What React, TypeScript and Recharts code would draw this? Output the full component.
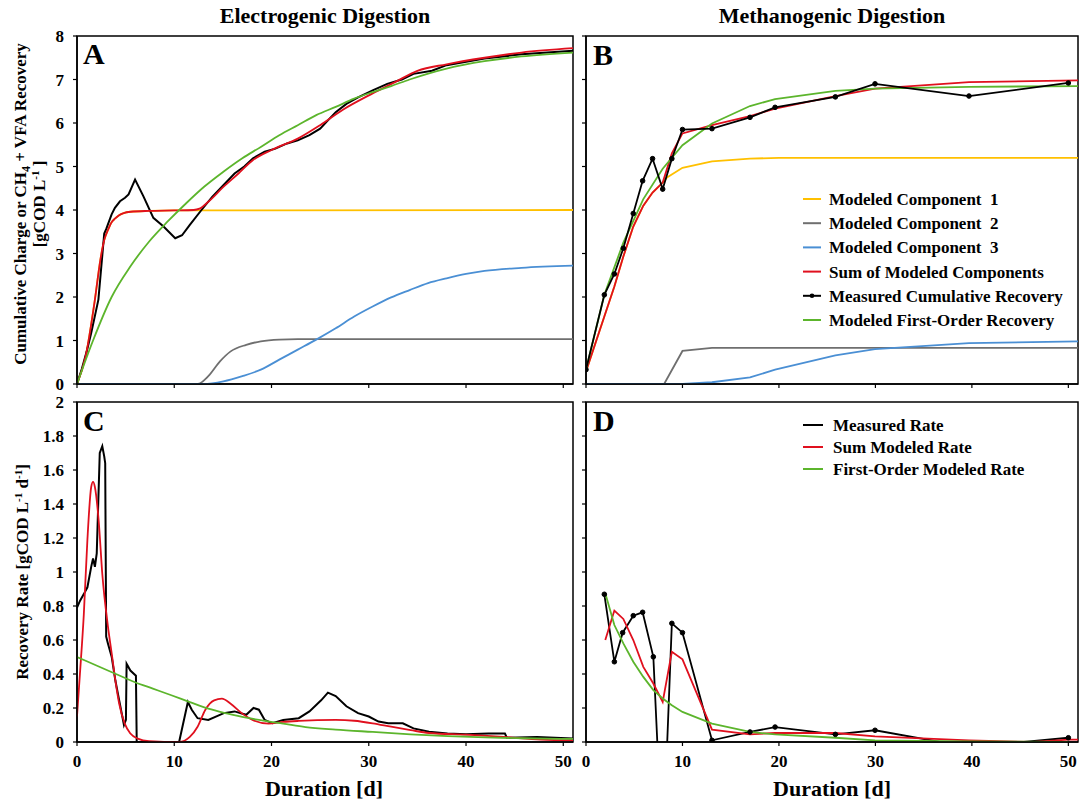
import React from 'react';
import { LineChart, Line, XAxis, YAxis, ReferenceArea } from 'recharts';

const FONT = '"Liberation Serif", "Times New Roman", Times, serif';
const YELLOW = '#ffc000';
const GRAY = '#6f6f6f';
const BLUE = '#4a8fd4';
const RED = '#e0101e';
const BLACK = '#000000';
const GREEN = '#5cb52c';

// ---------- Panel A: Electrogenic cumulative ----------
const A_MEAS_X = [0, 0.5, 1, 1.46, 2.2, 2.8, 3.0, 3.56, 3.9, 4.42, 4.94, 5.3, 5.97, 6.82, 7.85, 8.9, 10.1, 10.8, 11.6, 12.8, 13.9, 15.05, 16.2, 17.2, 18.1, 19.3, 20.4, 21.6, 22.7, 23.9, 25.0, 25.8, 26.6, 27.7, 28.9, 30.4, 31.9, 33.4, 34.6, 36.5, 38.0, 41.9, 45.7, 51];
const A_MEAS_Y = [0, 0.35, 0.75, 1.17, 1.94, 3.46, 3.56, 3.9, 4.05, 4.2, 4.28, 4.36, 4.7, 4.32, 3.82, 3.62, 3.35, 3.42, 3.66, 4.0, 4.3, 4.57, 4.84, 5.0, 5.19, 5.34, 5.41, 5.53, 5.6, 5.72, 5.87, 6.06, 6.25, 6.44, 6.59, 6.75, 6.9, 7.0, 7.13, 7.2, 7.33, 7.48, 7.58, 7.66];
const A_SUM_X = [0, 0.88, 1.84, 2.4, 2.8, 3.2, 3.56, 3.9, 4.33, 4.8, 5.5, 7.4, 10, 12.0, 12.6, 13.5, 15.05, 16.6, 18.1, 20.0, 22.7, 25.0, 27.3, 30.4, 32.7, 35.0, 38.0, 41.9, 45.7, 51];
const A_SUM_Y = [0, 0.63, 1.94, 2.85, 3.31, 3.55, 3.72, 3.8, 3.88, 3.93, 3.96, 3.98, 3.99, 4.0, 4.03, 4.19, 4.53, 4.84, 5.15, 5.38, 5.64, 5.95, 6.3, 6.68, 6.94, 7.2, 7.35, 7.5, 7.62, 7.72];
const A_C1_X = [0, 0.88, 1.84, 2.4, 2.8, 3.2, 3.56, 3.9, 4.33, 4.8, 5.5, 7.4, 10, 51];
const A_C1_Y = [0, 0.63, 1.94, 2.85, 3.31, 3.55, 3.72, 3.8, 3.88, 3.93, 3.96, 3.98, 3.99, 4.0];
const A_C2_X = [0, 12.4, 13.5, 14.7, 15.8, 17.4, 18.9, 20.8, 22.7, 51];
const A_C2_Y = [0, 0, 0.18, 0.52, 0.75, 0.9, 0.98, 1.02, 1.03, 1.03];
const A_C3_X = [0, 13, 15.05, 17, 18.9, 20.8, 22.7, 24.6, 26.6, 28.5, 30.4, 32.3, 34.2, 36.1, 38, 40, 41.9, 45.7, 51];
const A_C3_Y = [0, 0, 0.06, 0.18, 0.33, 0.56, 0.79, 1.02, 1.28, 1.55, 1.78, 1.99, 2.16, 2.32, 2.43, 2.53, 2.6, 2.67, 2.72];
const A_FO_X = [0, 1.65, 3.56, 5.48, 7.4, 9.3, 11.2, 13.1, 15.05, 17, 18.9, 20.8, 22.7, 24.6, 26.6, 28.5, 30.4, 32.3, 34.2, 38, 41.9, 45.7, 51];
const A_FO_Y = [0, 1.0, 2.0, 2.7, 3.27, 3.73, 4.15, 4.54, 4.88, 5.19, 5.45, 5.72, 5.95, 6.18, 6.37, 6.56, 6.71, 6.85, 7.0, 7.25, 7.42, 7.53, 7.62];

// ---------- Panel B: Methanogenic cumulative ----------
const B_MEAS_X = [0, 1.9, 2.94, 3.87, 4.9, 5.87, 6.9, 7.95, 8.9, 10, 13.06, 17, 19.6, 25.85, 29.96, 39.7, 50];
const B_MEAS_Y = [0.33, 2.05, 2.53, 3.12, 3.92, 4.67, 5.18, 4.48, 5.18, 5.85, 5.87, 6.13, 6.36, 6.6, 6.9, 6.62, 6.92];
const B_SUM_X = [0, 1.9, 2.94, 3.87, 4.9, 5.94, 6.9, 7.95, 8.9, 10, 13.06, 17, 19.6, 25.85, 29.96, 39.7, 51];
const B_SUM_Y = [0.29, 1.55, 2.24, 2.93, 3.62, 4.1, 4.4, 4.63, 5.3, 5.76, 5.95, 6.16, 6.33, 6.62, 6.79, 6.94, 6.98];
const B_C1_X = [0, 1.9, 2.94, 3.87, 4.9, 5.94, 6.9, 7.95, 8.4, 10, 13.06, 17, 20, 51];
const B_C1_Y = [0.29, 1.55, 2.24, 2.93, 3.62, 4.1, 4.4, 4.63, 4.75, 4.97, 5.12, 5.18, 5.2, 5.2];
const B_C2_X = [0, 8.1, 10, 13.06, 51];
const B_C2_Y = [0, 0, 0.76, 0.83, 0.83];
const B_C3_X = [0, 10, 13.06, 17, 19.6, 25.85, 29.96, 39.7, 51];
const B_C3_Y = [0, 0, 0.04, 0.15, 0.33, 0.66, 0.8, 0.94, 0.98];
const B_FO_X = [0, 1.9, 3.87, 5.94, 7.95, 10, 13.06, 17, 19.6, 25.85, 29.96, 39.7, 51];
const B_FO_Y = [0.33, 2.05, 3.25, 4.25, 4.95, 5.49, 5.99, 6.39, 6.55, 6.74, 6.79, 6.83, 6.85];

// ---------- Panel C: Electrogenic rate ----------
const C_MEAS_X = [0, 0.3, 0.7, 1.07, 1.46, 1.65, 1.84, 2.03, 2.15, 2.34, 2.6, 2.8, 2.9, 3.0, 3.18, 3.57, 3.95, 4.34, 4.83, 5.03, 5.1, 5.49, 6.06, 6.14, 10.5, 11.4, 11.8, 12.4, 13.5, 15.1, 16.2, 17.4, 18.15, 18.7, 19.3, 20.1, 21.2, 22.8, 23.9, 25.1, 25.8, 26.6, 27.7, 28.9, 30.0, 31.0, 32.0, 33.5, 34.6, 36.2, 38.1, 40.0, 42.3, 44.0, 44.2, 47.3, 51];
const C_MEAS_Y = [0.79, 0.83, 0.87, 0.91, 1.03, 1.08, 1.03, 1.11, 1.34, 1.7, 1.74, 1.68, 1.64, 0.62, 0.58, 0.5, 0.36, 0.245, 0.1, 0.13, 0.46, 0.42, 0.39, 0, 0, 0.235, 0.19, 0.14, 0.13, 0.17, 0.18, 0.16, 0.2, 0.19, 0.13, 0.11, 0.13, 0.14, 0.18, 0.245, 0.29, 0.27, 0.21, 0.17, 0.15, 0.12, 0.11, 0.11, 0.08, 0.06, 0.05, 0.045, 0.05, 0.05, 0.025, 0.03, 0.02];
const C_SUM_X = [0, 0.3, 0.7, 1.07, 1.46, 1.65, 1.84, 2.23, 2.6, 3.18, 3.57, 3.95, 4.34, 4.91, 5.49, 6.25, 7.4, 10.5, 11.6, 12.4, 13.2, 14.1, 14.9, 15.8, 17.0, 18.15, 19.7, 21.2, 22.8, 26.6, 28.5, 30.4, 32.3, 34.3, 36.2, 40, 43.9, 47.7, 51];
const C_SUM_Y = [0.15, 0.4, 0.75, 1.19, 1.5, 1.53, 1.5, 1.3, 0.99, 0.68, 0.52, 0.36, 0.225, 0.108, 0.05, 0.02, 0.005, 0, 0.03, 0.09, 0.19, 0.245, 0.255, 0.225, 0.167, 0.127, 0.108, 0.118, 0.124, 0.13, 0.125, 0.11, 0.09, 0.07, 0.053, 0.043, 0.03, 0.014, 0.01];
const C_FO_X = [0, 2, 4, 5.9, 7.8, 9.7, 11.6, 13.5, 15.5, 17.4, 19.3, 21.2, 23.5, 26.6, 30.4, 34.3, 38.1, 42, 45.8, 51];
const C_FO_Y = [0.5, 0.45, 0.4, 0.353, 0.314, 0.275, 0.235, 0.196, 0.167, 0.143, 0.124, 0.108, 0.088, 0.073, 0.059, 0.045, 0.035, 0.027, 0.022, 0.018];

// ---------- Panel D: Methanogenic rate ----------
const D_MEAS_X = [1.9, 2.94, 3.8, 4.9, 5.87, 6.98, 7.95, 8.9, 10.0, 13.06, 17.0, 19.6, 25.85, 29.96, 39.7, 50];
const D_MEAS_Y = [0.869, 0.472, 0.643, 0.743, 0.763, 0.501, -0.68, 0.698, 0.643, 0.01, 0.059, 0.088, 0.045, 0.069, -0.03, 0.025];
const D_SUM_X = [2.0, 2.94, 3.87, 4.9, 5.94, 6.98, 7.95, 8.9, 10.0, 13.06, 17.0, 19.6, 25.85, 29.96, 39.7, 46.4, 50, 51];
const D_SUM_Y = [0.6, 0.773, 0.724, 0.6, 0.442, 0.344, 0.236, 0.531, 0.486, 0.073, 0.045, 0.053, 0.053, 0.033, 0.01, 0, 0.014, 0.014];
const D_FO_X = [2.0, 2.94, 3.87, 4.9, 5.94, 6.98, 7.95, 8.9, 10, 13.06, 17, 19.6, 25.85, 29.96, 39.7, 50];
const D_FO_Y = [0.875, 0.688, 0.58, 0.472, 0.383, 0.305, 0.256, 0.216, 0.177, 0.108, 0.059, 0.045, 0.025, 0.01, 0.004, 0];

// ---------- Axes / text ----------
const X_TICKS = [0, 10, 20, 30, 40, 50];
const Y_TICKS_CUM = [0, 1, 2, 3, 4, 5, 6, 7, 8];
const Y_TICKS_RATE = [0, 0.2, 0.4, 0.6, 0.8, 1, 1.2, 1.4, 1.6, 1.8, 2];
const LEGEND_B = ['Modeled Component  1', 'Modeled Component  2', 'Modeled Component  3', 'Sum of Modeled Components', 'Measured Cumulative Recovery', 'Modeled First-Order Recovery'];
const LEGEND_B_COLORS = [YELLOW, GRAY, BLUE, RED, BLACK, GREEN];
const LEGEND_D = ['Measured Rate', 'Sum Modeled Rate', 'First-Order Modeled Rate'];
const LEGEND_D_COLORS = [BLACK, RED, GREEN];

type Pt = { x: number; y: number };
const pts = (xs: number[], ys: number[]): Pt[] => xs.map((x, i) => ({ x, y: ys[i] }));

type Series = { data: Pt[]; color: string; smooth?: boolean; dots?: boolean; width?: number; name: string };

const tickStyle = { fontSize: 17, fontWeight: 700, fill: '#000', fontFamily: FONT };
const blank = () => '';

function Panel(props: {
  left: number; top: number; width: number; height: number;
  mTop: number; mRight: number; yWidth: number; xHeight: number;
  yMax: number; yTicks: number[]; showXLabels: boolean; showYLabels: boolean;
  series: Series[];
}) {
  const { left, top, width, height, mTop, mRight, yWidth, xHeight, yMax, yTicks, showXLabels, showYLabels, series } = props;
  return (
    <div style={{ position: 'absolute', left, top, width, height }}>
      <LineChart width={width} height={height} margin={{ top: mTop, right: mRight, bottom: 0, left: 0 }}>
        <XAxis
          type="number"
          dataKey="x"
          domain={[0, 51]}
          ticks={X_TICKS}
          interval={0}
          allowDataOverflow
          height={xHeight}
          tickSize={4}
          tickMargin={9}
          axisLine={{ stroke: '#000', strokeWidth: 1.5 }}
          tickLine={{ stroke: '#000', strokeWidth: 1.2 }}
          tick={tickStyle}
          tickFormatter={showXLabels ? undefined : blank}
        />
        <YAxis
          type="number"
          dataKey="y"
          domain={[0, yMax]}
          ticks={yTicks}
          interval={0}
          allowDataOverflow
          width={yWidth}
          tickSize={4}
          tickMargin={9}
          axisLine={{ stroke: '#000', strokeWidth: 1.5 }}
          tickLine={{ stroke: '#000', strokeWidth: 1.2 }}
          tick={tickStyle}
          tickFormatter={showYLabels ? undefined : blank}
        />
        <ReferenceArea x1={0} x2={51} y1={0} y2={yMax} fill="none" fillOpacity={0} stroke="#000" strokeWidth={1.5} ifOverflow="visible" />
        {series.map((s) => (
          <Line
            key={s.name}
            data={s.data}
            dataKey="y"
            name={s.name}
            type={s.smooth ? 'monotone' : 'linear'}
            stroke={s.color}
            strokeWidth={s.width ?? 1.8}
            dot={s.dots ? { r: 2.3, fill: '#000', stroke: '#000', strokeWidth: 1 } : false}
            activeDot={false}
            isAnimationActive={false}
          />
        ))}
      </LineChart>
    </div>
  );
}

export default function App() {
  const seriesA: Series[] = [
    { name: 'c1', data: pts(A_C1_X, A_C1_Y), color: YELLOW, smooth: true },
    { name: 'c2', data: pts(A_C2_X, A_C2_Y), color: GRAY, smooth: true },
    { name: 'c3', data: pts(A_C3_X, A_C3_Y), color: BLUE, smooth: true },
    { name: 'meas', data: pts(A_MEAS_X, A_MEAS_Y), color: BLACK, width: 2 },
    { name: 'sum', data: pts(A_SUM_X, A_SUM_Y), color: RED, smooth: true },
    { name: 'fo', data: pts(A_FO_X, A_FO_Y), color: GREEN, smooth: true },
  ];
  const seriesB: Series[] = [
    { name: 'c1', data: pts(B_C1_X, B_C1_Y), color: YELLOW },
    { name: 'c2', data: pts(B_C2_X, B_C2_Y), color: GRAY },
    { name: 'c3', data: pts(B_C3_X, B_C3_Y), color: BLUE },
    { name: 'sum', data: pts(B_SUM_X, B_SUM_Y), color: RED },
    { name: 'fo', data: pts(B_FO_X, B_FO_Y), color: GREEN },
    { name: 'meas', data: pts(B_MEAS_X, B_MEAS_Y), color: BLACK, dots: true },
  ];
  const seriesC: Series[] = [
    { name: 'meas', data: pts(C_MEAS_X, C_MEAS_Y), color: BLACK, width: 2 },
    { name: 'sum', data: pts(C_SUM_X, C_SUM_Y), color: RED, smooth: true },
    { name: 'fo', data: pts(C_FO_X, C_FO_Y), color: GREEN, smooth: true },
  ];
  const seriesD: Series[] = [
    { name: 'meas', data: pts(D_MEAS_X, D_MEAS_Y), color: BLACK, dots: true },
    { name: 'sum', data: pts(D_SUM_X, D_SUM_Y), color: RED },
    { name: 'fo', data: pts(D_FO_X, D_FO_Y), color: GREEN },
  ];

  const bold = { fontFamily: FONT, fontWeight: 700, fill: '#000' } as const;

  return (
    <div style={{ position: 'absolute', left: 0, top: 0, width: 1080, height: 802, background: '#fff', fontFamily: FONT }}>
      <Panel left={0} top={0} width={580} height={400} mTop={36} mRight={7} yWidth={77} xHeight={16}
        yMax={8} yTicks={Y_TICKS_CUM} showXLabels={false} showYLabels series={seriesA} />
      <Panel left={580} top={0} width={500} height={400} mTop={36} mRight={2} yWidth={6} xHeight={16}
        yMax={8} yTicks={Y_TICKS_CUM} showXLabels={false} showYLabels={false} series={seriesB} />
      <Panel left={0} top={390} width={580} height={412} mTop={12} mRight={7} yWidth={77} xHeight={60}
        yMax={2} yTicks={Y_TICKS_RATE} showXLabels showYLabels series={seriesC} />
      <Panel left={580} top={390} width={500} height={412} mTop={12} mRight={2} yWidth={6} xHeight={60}
        yMax={2} yTicks={Y_TICKS_RATE} showXLabels showYLabels={false} series={seriesD} />

      <svg width={1080} height={802} style={{ position: 'absolute', left: 0, top: 0, pointerEvents: 'none' }}>
        <text x={325} y={23} textAnchor="middle" fontSize={22} {...bold}>Electrogenic Digestion</text>
        <text x={832} y={23} textAnchor="middle" fontSize={22} {...bold}>Methanogenic Digestion</text>
        <text x={324} y={796} textAnchor="middle" fontSize={22} {...bold}>Duration [d]</text>
        <text x={832} y={796} textAnchor="middle" fontSize={22} {...bold}>Duration [d]</text>

        <text x={83} y={64} fontSize={30} {...bold}>A</text>
        <text x={593} y={65} fontSize={30} {...bold}>B</text>
        <text x={83} y={431} fontSize={30} {...bold}>C</text>
        <text x={593} y={431} fontSize={30} {...bold}>D</text>

        <text transform="translate(26,204) rotate(-90)" textAnchor="middle" fontSize={17} {...bold}>
          Cumulative Charge or CH<tspan dy={4} fontSize={12}>4</tspan><tspan dy={-4}> + VFA Recovery</tspan>
        </text>
        <text transform="translate(45,204) rotate(-90)" textAnchor="middle" fontSize={17} {...bold}>
          [gCOD L<tspan dy={-6} fontSize={11}>-1</tspan><tspan dy={6}> ]</tspan>
        </text>
        <text transform="translate(28,572) rotate(-90)" textAnchor="middle" fontSize={17} {...bold}>
          Recovery Rate [gCOD L<tspan dy={-6} fontSize={11}>-1</tspan><tspan dy={6}> d</tspan><tspan dy={-6} fontSize={11}>-1</tspan><tspan dy={6}>]</tspan>
        </text>

        {LEGEND_B.map((label, i) => {
          const y = 199 + i * 24.2;
          return (
            <g key={label}>
              <line x1={803} x2={821} y1={y} y2={y} stroke={LEGEND_B_COLORS[i]} strokeWidth={2} />
              {i === 4 && <circle cx={812} cy={y} r={2.3} fill="#000" />}
              <text x={829} y={y + 6} fontSize={17} style={{ whiteSpace: 'pre' }} {...bold}>{label}</text>
            </g>
          );
        })}
        {LEGEND_D.map((label, i) => {
          const y = 425 + i * 22;
          return (
            <g key={label}>
              <line x1={803} x2={823} y1={y} y2={y} stroke={LEGEND_D_COLORS[i]} strokeWidth={2} />
              <text x={833} y={y + 6} fontSize={17} {...bold}>{label}</text>
            </g>
          );
        })}
      </svg>
    </div>
  );
}
